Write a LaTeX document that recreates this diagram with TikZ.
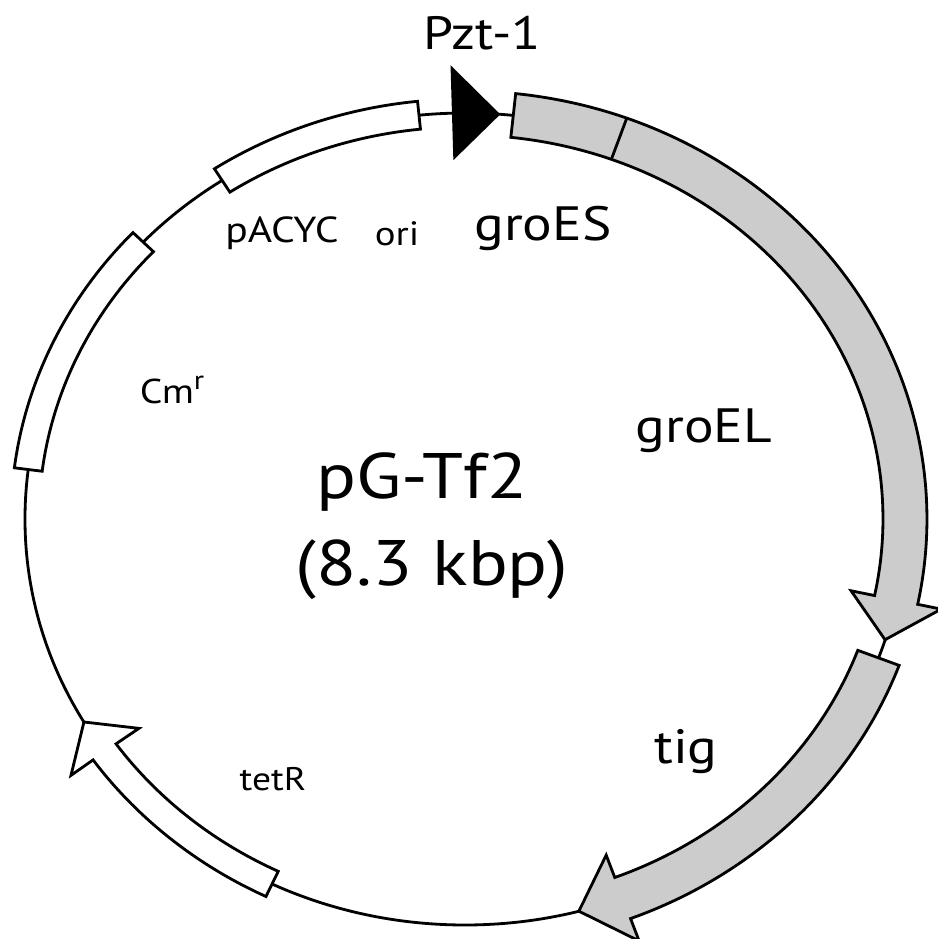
\documentclass[tikz,border=0pt]{standalone}
\usepackage{fontspec}
\setmainfont{PT Sans}[FakeStretch=1.15]
\usetikzlibrary{positioning}
\definecolor{genegray}{HTML}{CCCCCC}

\begin{document}
\begin{tikzpicture}[x=0.1mm,y=0.1mm,line join=miter,
  cds/.style={draw,line width=0.8pt,fill=genegray},
  marker/.style={draw,line width=0.8pt,fill=white},
  big/.style={font=\fontsize{18.3}{20}\selectfont,anchor=base},
  mid/.style={font=\fontsize{13.7}{15}\selectfont,anchor=base},
  small/.style={font=\fontsize{9.8}{11}\selectfont,anchor=base}]
\useasboundingbox (-465,-420) rectangle (473,519);
\draw[line width=0.8pt] (0,0) ellipse [x radius=440, y radius=406];
\draw[marker] (96:454 and 420) arc[start angle=96, end angle=123.5, x radius=454, y radius=420] -- (123.5:426 and 392) arc[start angle=123.5, end angle=96, x radius=426, y radius=392] -- cycle;
\draw[marker] (137:454 and 420) arc[start angle=137, end angle=173, x radius=454, y radius=420] -- (173:426 and 392) arc[start angle=173, end angle=137, x radius=426, y radius=392] -- cycle;
\draw[marker] (-116:454 and 420) arc[start angle=-116, end angle=-145, x radius=454, y radius=420] -- (-145:481 and 447) -- (-150:440 and 406) -- (-145:398 and 365) -- (-145:426 and 392) arc[start angle=-145, end angle=-116, x radius=426, y radius=392] -- cycle;
\draw[cds] (83.7:462 and 428) arc[start angle=83.7, end angle=-11.5, x radius=462, y radius=428] -- (-11.5:486 and 452) -- (-17.3:440 and 406) -- (-11.5:394 and 360) -- (-11.5:418 and 384) arc[start angle=-11.5, end angle=83.7, x radius=418, y radius=384] -- cycle;
\draw[line width=0.8pt] (69.5:462 and 428) -- (69.5:418 and 384);
\draw[cds] (-20:462 and 428) arc[start angle=-20, end angle=-69, x radius=462, y radius=428] -- (-69:486 and 452) -- (-75:440 and 406) -- (-69:394 and 360) -- (-69:418 and 384) arc[start angle=-69, end angle=-20, x radius=418, y radius=384] -- cycle;
\fill (91.7:488 and 454) -- (85.4:440 and 406) -- (91.7:392 and 359) -- cycle;
\node[mid,font=\fontsize{13.3}{15}\selectfont] (pzt) at (17,470) {Pzt-1};
\node[mid] (groes) at (78,279) {groES};
\node[mid] (groel) at (239,77) {groEL};
\node[mid] (tig) at (221,-244) {tig};
\node[small,font=\fontsize{10.3}{12}\selectfont] (pacyc) at (-183,277) {pACYC};
\node[small,font=\fontsize{9.6}{11}\selectfont] (ori) at (-68,274) {ori};
\node[small] (cmr) at (-293,116) {Cm\raisebox{0.4em}{\fontsize{7.5}{8}\selectfont r}};
\node[small,font=\fontsize{9.3}{11}\selectfont] (tetr) at (-192,-271) {tetR};
\node[big] (name) at (-43,21) {pG-Tf2};
\node[big] (size) at (-33,-66) {(8.3 kbp)};
\end{tikzpicture}
\end{document}
